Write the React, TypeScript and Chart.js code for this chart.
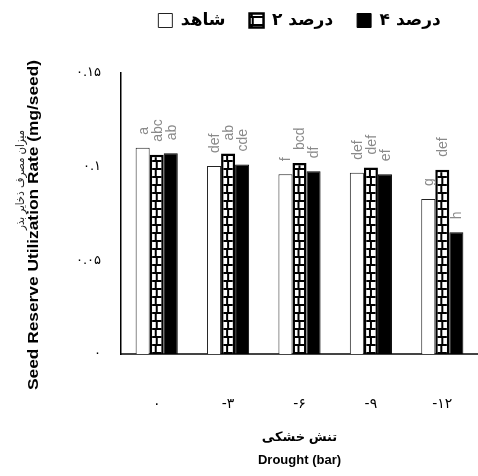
import React, { useEffect, useRef } from "react";
import { Chart, registerables } from "chart.js";

Chart.register(...registerables);

const categories = ["۰", "-۳", "-۶", "-۹", "-۱۲"];
const seriesNames = ["شاهد", "۲ درصد", "۴ درصد"];
const controlValues = [0.1101, 0.1003, 0.096, 0.0967, 0.0828];
const twoPercentValues = [0.1063, 0.107, 0.1019, 0.0996, 0.0983];
const fourPercentValues = [0.1072, 0.1012, 0.0976, 0.096, 0.065];
const controlLetters = ["a", "def", "f", "def", "g"];
const twoPercentLetters = ["abc", "ab", "bcd", "def", "def"];
const fourPercentLetters = ["ab", "cde", "df", "ef", "h"];
const yTickValues = [0, 0.05, 0.1, 0.15];
const yTickLabels = ["۰", "۰.۰۵", "۰.۱", "۰.۱۵"];
const yTitleFa = "میزان مصرف ذخایر بذر";
const yTitleEn = "Seed Reserve Utilization Rate (mg/seed)";
const xTitle = ["تنش خشکی", "Drought (bar)"];

let tileCanvas: HTMLCanvasElement | null = null;
function getTile(): HTMLCanvasElement {
  if (tileCanvas) return tileCanvas;
  const t = document.createElement("canvas");
  t.width = 16;
  t.height = 16;
  const g = t.getContext("2d")!;
  g.fillStyle = "#000";
  g.fillRect(0, 0, 16, 16);
  g.fillStyle = "#fff";
  g.fillRect(0, 2, 7, 6);
  g.fillRect(9, 2, 7, 6);
  g.fillRect(0, 10, 6, 6);
  g.fillRect(8, 10, 8, 6);
  tileCanvas = t;
  return t;
}

function hatchFill(c: any) {
  const chart = c.chart;
  const pattern = chart.ctx.createPattern(getTile(), "repeat");
  let cx = 8;
  if (c.dataIndex !== undefined && chart.scales && chart.scales.x) {
    cx = chart.scales.x.getPixelForValue(c.dataIndex);
  }
  if (pattern && (pattern as any).setTransform) {
    pattern.setTransform(new DOMMatrix([1, 0, 0, 1, cx - 8, 0]));
  }
  return pattern;
}

const allLetters = [controlLetters, twoPercentLetters, fourPercentLetters];

const lettersPlugin = {
  id: "lettersPlugin",
  afterDatasetsDraw(chart: any) {
    const ctx = chart.ctx;
    ctx.save();
    ctx.font = "14px 'Liberation Sans', sans-serif";
    ctx.fillStyle = "#8a8a8a";
    ctx.textAlign = "left";
    ctx.textBaseline = "middle";
    allLetters.forEach((letters, i) => {
      const meta = chart.getDatasetMeta(i);
      meta.data.forEach((bar: any, j: number) => {
        ctx.save();
        ctx.translate(bar.x + 1, bar.y - 13);
        ctx.rotate(-Math.PI / 2);
        ctx.fillText(letters[j], 0, 0);
        ctx.restore();
      });
    });
    ctx.restore();
  },
};

function drawRotated(ctx: any, text: string, x: number, y: number, font: string, color: string, length: number) {
  ctx.save();
  ctx.font = font;
  const w = ctx.measureText(text).width || 1;
  ctx.translate(x, y);
  ctx.rotate(-Math.PI / 2);
  ctx.scale(length / w, 1);
  ctx.fillStyle = color;
  ctx.textAlign = "center";
  ctx.textBaseline = "middle";
  ctx.fillText(text, 0, 0);
  ctx.restore();
}

const yTitlePlugin = {
  id: "yTitlePlugin",
  afterDraw(chart: any) {
    const ctx = chart.ctx;
    drawRotated(ctx, yTitleFa, 21, 180, "12px 'DejaVu Sans', sans-serif", "#222", 100);
    drawRotated(ctx, yTitleEn, 34, 225, "bold 14px 'Liberation Sans', sans-serif", "#000", 330);
  },
};

const legendPlacePlugin = {
  id: "legendPlacePlugin",
  afterLayout(chart: any) {
    const lg = chart.legend;
    const ca = chart.chartArea;
    if (lg && ca) {
      lg.left = ca.left;
      lg.right = ca.right;
      lg.width = ca.right - ca.left;
      lg.top -= 34;
      lg.bottom -= 34;
    }
  },
};

export default function App() {
  const ref = useRef<HTMLCanvasElement | null>(null);
  useEffect(() => {
    document.body.style.margin = "0";
    const canvas = ref.current!;
    const chart = new Chart(canvas, {
      type: "bar",
      data: {
        labels: categories,
        datasets: [
          {
            label: seriesNames[0],
            data: controlValues,
            backgroundColor: "#ffffff",
            borderColor: "#222",
            borderWidth: 1,
          },
          {
            label: seriesNames[1],
            data: twoPercentValues,
            backgroundColor: hatchFill as any,
            borderColor: "#000",
            borderWidth: 2.5,
          },
          {
            label: seriesNames[2],
            data: fourPercentValues,
            backgroundColor: "#000",
            borderColor: "#000",
            borderWidth: 1,
          },
        ],
      },
      options: {
        responsive: false,
        animation: false,
        maintainAspectRatio: false,
        datasets: { bar: { barPercentage: 1, categoryPercentage: 0.59 } },
        layout: { padding: { top: 22, left: 0, right: 0, bottom: 0 } },
        plugins: {
          tooltip: { enabled: false },
          legend: {
            position: "top",
            labels: {
              boxWidth: 14,
              boxHeight: 14,
              padding: 24,
              color: "#000",
              font: { family: "'DejaVu Sans', sans-serif", size: 17, weight: "bold" },
            },
          },
        },
        scales: {
          x: {
            grid: { display: false, drawTicks: false },
            border: { display: true, color: "#444", width: 2 },
            ticks: {
              padding: 42,
              color: "#000",
              font: { family: "'DejaVu Sans', sans-serif", size: 14 },
            },
            title: {
              display: true,
              text: xTitle,
              color: "#000",
              padding: { top: 0, bottom: 4.5 },
              font: { family: "'Liberation Sans', 'DejaVu Sans', sans-serif", size: 13, weight: "bold", lineHeight: "23px" },
            },
            afterFit(scale: any) {
              scale.height = 122;
              scale.paddingLeft = 0;
              scale.paddingRight = 0;
            },
          },
          y: {
            min: 0,
            max: 0.15,
            grid: { display: false, drawTicks: false },
            border: { display: true, color: "#000", width: 1.5 },
            ticks: {
              stepSize: 0.05,
              padding: 20,
              color: "#000",
              font: { family: "'DejaVu Sans', sans-serif", size: 13 },
              callback(value: any) {
                const idx = yTickValues.findIndex((v) => Math.abs(v - Number(value)) < 1e-9);
                return idx >= 0 ? yTickLabels[idx] : "";
              },
            },
            title: { display: false },
            afterFit(scale: any) {
              scale.width = 121;
            },
          },
        },
      },
      plugins: [lettersPlugin, yTitlePlugin, legendPlacePlugin],
    });
    return () => chart.destroy();
  }, []);
  return (
    <div style={{ width: 478, height: 476 }}>
      <canvas ref={ref} width={478} height={476} style={{ display: "block", width: 478, height: 476 }} />
    </div>
  );
}
